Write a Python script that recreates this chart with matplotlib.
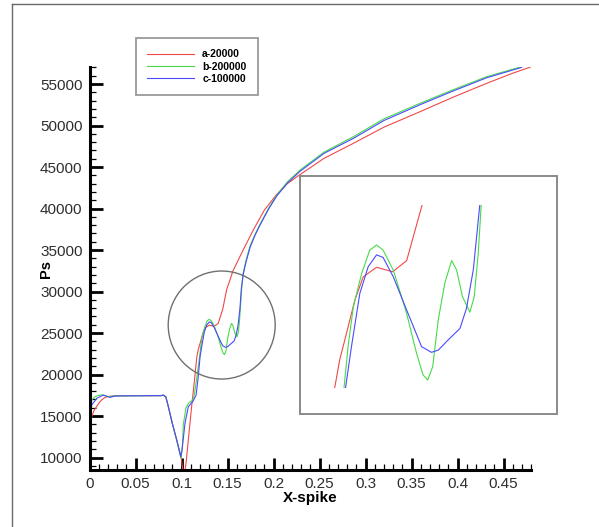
import matplotlib
matplotlib.use("Agg")
import matplotlib.pyplot as plt
from matplotlib.patches import Ellipse, Rectangle
from matplotlib.lines import Line2D
from matplotlib.ticker import MultipleLocator, FuncFormatter

plt.rcParams['font.family'] = ['Liberation Sans', 'DejaVu Sans']

labels = ["a-20000", "b-200000", "c-100000"]
colors = ["#f04848", "#48da48", "#4a4aff"]

xa = [0.0000, 0.0024, 0.0050, 0.0078, 0.0105, 0.0133, 0.0170, 0.0204, 0.0250, 0.0400,
      0.0600, 0.0780, 0.0802, 0.0830, 0.0857, 0.0900, 0.0948, 0.0995, 0.1015, 0.1025,
      0.1040, 0.1049, 0.1074, 0.1110, 0.1140, 0.1167, 0.1183, 0.1205, 0.1232, 0.1259,
      0.1302, 0.1354, 0.1399, 0.1449, 0.1490, 0.1527, 0.1560, 0.1670, 0.1780, 0.1900,
      0.2035, 0.2150, 0.2290, 0.2550, 0.2868, 0.3200, 0.3592, 0.3950, 0.4317, 0.4600,
      0.4806]
ya = [13300, 14900, 15700, 16150, 16600, 16950, 17250, 17350, 17420, 17450,
      17450, 17460, 17500, 17300, 16130, 14120, 12110, 10100, 8500, 8000,
      8600, 9300, 12110, 16130, 19200, 22170, 23040, 23880, 24920, 25650,
      25950, 25810, 26160, 27910, 30200, 31400, 32500, 35000, 37400, 39800,
      41700, 43000, 44100, 46050, 47850, 49800, 51660, 53400, 55080, 56300,
      57090]

xb = [0.0000, 0.0024, 0.0060, 0.0100, 0.0133, 0.0170, 0.0204, 0.0250, 0.0300, 0.0600,
      0.0780, 0.0802, 0.0830, 0.0857, 0.0900, 0.0948, 0.0995, 0.1010, 0.1020, 0.1049,
      0.1080, 0.1110, 0.1135, 0.1165, 0.1197, 0.1210, 0.1227, 0.1254, 0.1280, 0.1302,
      0.1323, 0.1356, 0.1399, 0.1431, 0.1452, 0.1467, 0.1483, 0.1501, 0.1522, 0.1544,
      0.1560, 0.1579, 0.1603, 0.1617, 0.1630, 0.1640, 0.1655, 0.1670, 0.1700, 0.1745,
      0.1800, 0.1853, 0.1950, 0.2035, 0.2150, 0.2290, 0.2550, 0.2868, 0.3200, 0.3592,
      0.3950, 0.4317, 0.4697]
yb = [13300, 16930, 17330, 17500, 17550, 17450, 17330, 17400, 17430, 17450,
      17460, 17530, 17300, 16130, 14120, 12110, 9900, 11500, 14000, 16000,
      16600, 16800, 17300, 19500, 22170, 23460, 24710, 25760, 26490, 26650,
      26490, 25860, 24500, 23250, 22570, 22410, 22830, 24300, 25450, 26160,
      25870, 25030, 24540, 25030, 26390, 28000, 30500, 32200, 33700, 35500,
      36900, 38100, 40100, 41600, 43200, 44640, 46800, 48650, 50800, 52670,
      54300, 55880, 57090]

xc = [0.0000, 0.0024, 0.0078, 0.0150, 0.0223, 0.0280, 0.0600, 0.0780, 0.0802, 0.0830,
      0.0857, 0.0900, 0.0948, 0.0991, 0.1005, 0.1038, 0.1074, 0.1122, 0.1158, 0.1180,
      0.1202, 0.1221, 0.1248, 0.1275, 0.1302, 0.1323, 0.1356, 0.1399, 0.1447, 0.1479,
      0.1501, 0.1533, 0.1571, 0.1592, 0.1614, 0.1635, 0.1650, 0.1670, 0.1700, 0.1745,
      0.1800, 0.1853, 0.1950, 0.2035, 0.2150, 0.2290, 0.2550, 0.2868, 0.3200, 0.3592,
      0.3950, 0.4317, 0.4697]
yc = [13300, 16330, 17130, 17530, 17250, 17420, 17450, 17460, 17530, 17300,
      16130, 14120, 12110, 10100, 10800, 14120, 16130, 16730, 17500, 19500,
      22170, 23460, 25130, 25970, 26340, 26260, 25650, 24610, 23460, 23280,
      23350, 23670, 24030, 24660, 25870, 27910, 30300, 32000, 33500, 35300,
      36800, 38000, 40000, 41500, 43050, 44500, 46650, 48450, 50600, 52500,
      54150, 55750, 57000]

series = [(xa, ya), (xb, yb), (xc, yc)]

xticks = [0, 0.05, 0.1, 0.15, 0.2, 0.25, 0.3, 0.35, 0.4, 0.45]
yticks = [10000, 15000, 20000, 25000, 30000, 35000, 40000, 45000, 50000, 55000]

W, H = 599, 527
fig = plt.figure(figsize=(W / 100, H / 100), dpi=100)

def fbox(x0, y0, x1, y1):
    return [x0 / W, 1 - y1 / H, (x1 - x0) / W, (y1 - y0) / H]

ax = fig.add_axes(fbox(89.5, 67.4, 531.1, 470))
for (x, y), c, lab in zip(series, colors, labels):
    ax.plot(x, y, color=c, lw=0.8, label=lab)

ax.set_xlim(0, 0.48)
ax.set_ylim(8500, 57000)
ax.spines['top'].set_visible(False)
ax.spines['right'].set_visible(False)
for s in ('left', 'bottom'):
    ax.spines[s].set_linewidth(2.2)
ax.set_xticks(xticks)
ax.set_yticks(yticks)
ax.xaxis.set_minor_locator(MultipleLocator(0.01))
ax.yaxis.set_minor_locator(MultipleLocator(1000))
ax.xaxis.set_major_formatter(FuncFormatter(lambda v, p: f"{v:g}"))
ax.yaxis.set_major_formatter(FuncFormatter(lambda v, p: f"{v:.0f}"))
ax.tick_params(which='major', direction='in', length=9, width=2, labelsize=11,
               labelcolor='#2e2e2e', pad=5)
ax.tick_params(which='minor', direction='in', length=4.5, width=0.9)
ax.set_xlabel("X-spike", fontsize=11, fontweight='bold')
ax.set_ylabel("Ps", fontsize=10.5, fontweight='bold')
ax.xaxis.set_label_coords(0.5, -0.052)
ax.yaxis.set_label_coords(-0.083, 0.5)

# circle marking the zoomed region
ax.add_patch(Ellipse((0.1437, 25964), 0.1163, 13012, fill=False,
                     edgecolor='#707070', lw=1.0, zorder=5))

leg = ax.legend(loc='upper left', bbox_to_anchor=(136 / W, 1 - 38 / H),
                bbox_transform=fig.transFigure, borderaxespad=0,
                frameon=True, fancybox=False, framealpha=1, edgecolor='#9a9a9a',
                prop={'weight': 'bold', 'size': 7.5}, handlelength=4.5,
                handletextpad=0.75, labelspacing=0.2, borderpad=1.1)
leg.get_frame().set_linewidth(1.3)

# inset frame and zoomed view
fig.patches.append(Rectangle((300 / W, 1 - 414 / H), 257 / W, 238 / H,
                             transform=fig.transFigure, fill=False,
                             edgecolor='#8a8a8a', lw=1.4))
axi = fig.add_axes(fbox(300, 205, 557, 388))
for (x, y), c in zip(series, colors):
    axi.plot(x, y, color=c, lw=0.8)
axi.set_xlim(0.1055, 0.1884)
axi.set_ylim(22160, 27906)
axi.axis('off')

# outer frame lines
fig.add_artist(Line2D([12 / W, 12 / W], [0, 1 - 4 / H], transform=fig.transFigure,
                      color='#6a6a6a', lw=1.0))
fig.add_artist(Line2D([12 / W, 1], [1 - 4 / H, 1 - 4 / H], transform=fig.transFigure,
                      color='#6a6a6a', lw=1.0))

fig.savefig("out.png", dpi=100)
